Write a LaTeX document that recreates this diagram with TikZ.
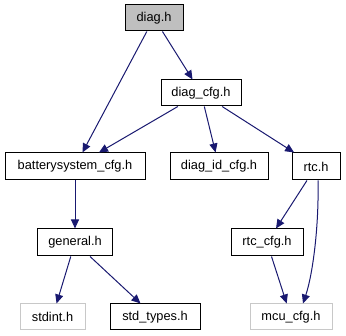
\documentclass[tikz,border=0pt]{standalone}
\usepackage{fontspec}
\setmainfont{Liberation Sans}
\usepackage{tikz}
\usetikzlibrary{arrows.meta}
\definecolor{edgeblue}{RGB}{25, 25, 112}
\definecolor{rootgrey}{RGB}{191, 191, 191}
\definecolor{extgrey}{RGB}{200, 200, 200}

\begin{document}
\begin{tikzpicture}[x=1pt, y=1pt,
  every node/.style={font=\fontsize{12.8}{15}\selectfont, inner sep=1pt},
  hdr/.style={rectangle, draw=black, line width=1pt, fill=white, minimum height=26pt},
  exthdr/.style={hdr, draw=extgrey},
  incl/.style={draw=edgeblue, line width=1pt, -{Triangle[length=9pt, width=8pt]}}]
\useasboundingbox (0,0) rectangle (346,336);

% headers, top to bottom
\node[hdr, fill=rootgrey, minimum width=58pt] (diag) at (154,318) {diag.h};
\node[hdr, minimum width=80pt] (diagcfg) at (201,243) {diag\_cfg.h};
\node[hdr, minimum width=140pt, minimum height=27pt] (battery) at (75,169.5) {batterysystem\_cfg.h};
\node[hdr, minimum width=98pt, minimum height=27pt] (diagid) at (219,169.5) {diag\_id\_cfg.h};
\node[hdr, minimum width=48pt, minimum height=27pt] (rtc) at (316,169.5) {rtc.h};
\node[hdr, minimum width=75pt, minimum height=27pt] (general) at (75,93.5) {general.h};
\node[hdr, minimum width=72pt, minimum height=27pt] (rtccfg) at (267,93.5) {rtc\_cfg.h};
\node[exthdr, minimum width=65pt] (stdint) at (52.5,19) {stdint.h};
\node[hdr, minimum width=90pt] (stdtypes) at (155,19) {std\_types.h};
\node[exthdr, minimum width=82pt] (mcucfg) at (291,19) {mcu\_cfg.h};

% include edges
\draw[incl] (diag) -- (battery);
\draw[incl] (diag) -- (diagcfg);
\draw[incl] (diagcfg) -- (battery);
\draw[incl] (diagcfg) -- (diagid);
\draw[incl] (diagcfg) -- (rtc);
\draw[incl] (battery) -- (general);
\draw[incl] (general) -- (stdint);
\draw[incl] (general) -- (stdtypes);
\draw[incl] (rtc) -- (rtccfg);
\draw[incl] (rtccfg) -- (mcucfg);
\draw[incl] ([xshift=2pt]rtc.south) .. controls +(1,-45) and +(10,30) .. ([xshift=12pt]mcucfg.north);
\end{tikzpicture}
\end{document}
